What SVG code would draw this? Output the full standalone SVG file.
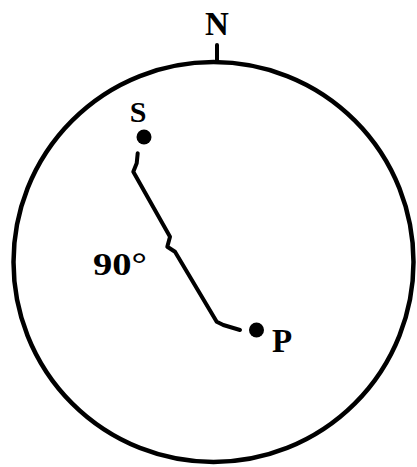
<svg xmlns="http://www.w3.org/2000/svg" width="417" height="467" viewBox="0 0 417 467">
<style>
.t{font-family:"Liberation Serif","Times New Roman",serif;font-weight:bold;fill:#000}
.ln{fill:none;stroke:#000;stroke-linecap:round;stroke-linejoin:round}
</style>
<rect width="417" height="467" fill="#fff"/>
<g id="globe">
<circle cx="213.5" cy="262" r="200" class="ln" stroke-width="4.5"/>
<line x1="217" y1="45" x2="217" y2="61" class="ln" stroke-width="4"/>
</g>
<g id="N"><text class="t" x="217" y="35" font-size="33" text-anchor="middle">N</text></g>
<g id="S">
<text class="t" x="138" y="122" font-size="30" text-anchor="middle">S</text>
<circle cx="144" cy="137" r="7.5" fill="#000"/>
</g>
<g id="P">
<circle cx="256.5" cy="330" r="7.5" fill="#000"/>
<text class="t" x="272" y="352" font-size="33">P</text>
</g>
<g id="connectors">
<path class="ln" stroke-width="4" d="M137.7,153.3 L136.7,163.3 L133.3,171.7 L170,236.7 L167.3,246.7 L175,251.7 L216.7,321.7 L223.3,325 L240,330"/>
</g>
<g id="label90"><text class="t" x="93" y="275" font-size="32" textLength="54" lengthAdjust="spacingAndGlyphs">90°</text></g>
</svg>
